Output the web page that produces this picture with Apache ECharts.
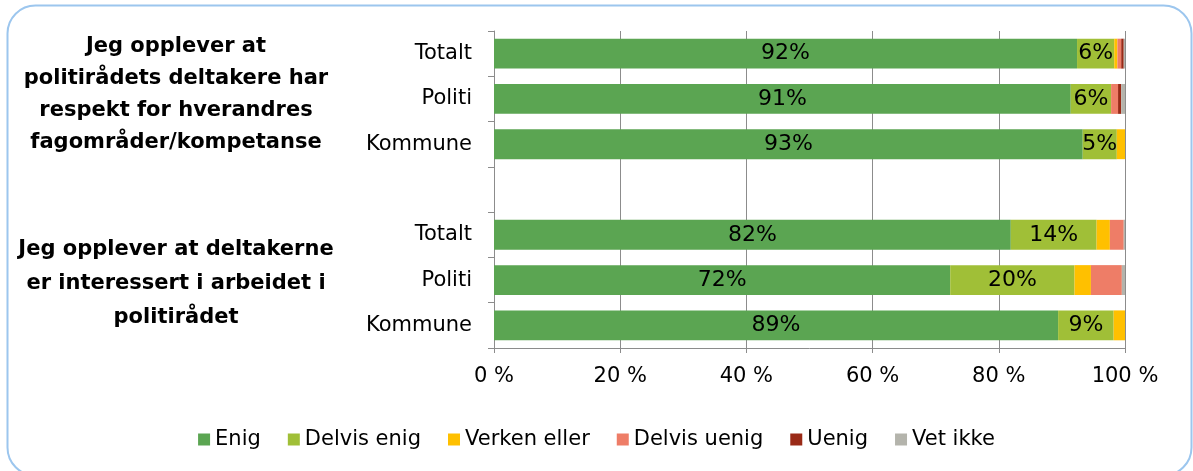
<!DOCTYPE html>
<html>
<head>
<meta charset="utf-8">
<script src="https://cdn.jsdelivr.net/npm/echarts@6/dist/echarts.min.js"></script>
<style>
  html, body { margin: 0; padding: 0; background: #fff; }
  #chart { width: 1193px; height: 471px; }
</style>
</head>
<body>
<div id="chart"></div>
<script>
// Kategorier (tom rad mellom de to spørsmålene)
const categoryLabels = ['Totalt', 'Politi', 'Kommune', '', 'Totalt', 'Politi', 'Kommune'];
const categoryIds = ['t1', 'p1', 'k1', 'gap', 't2', 'p2', 'k2'];

const questions = [
    'Jeg opplever at\npolitirådets deltakere har\nrespekt for hverandres\nfagområder/kompetanse',
    'Jeg opplever at deltakerne\ner interessert i arbeidet i\npolitirådet'
];

const seriesNames = ['Enig', 'Delvis enig', 'Verken eller', 'Delvis uenig', 'Uenig', 'Vet ikke'];

const enig        = [92.4, 91.4, 93.3, null, 81.9, 72.3, 89.4];
const delvisEnig  = [5.9, 6.4, 5.4, null, 13.6, 19.7, 8.8];
const verkenEller = [0.5, 0, 1.3, null, 2.1, 2.6, 1.8];
const delvisUenig = [0.6, 1.1, 0, null, 2.2, 4.9, 0];
const uenig       = [0.4, 0.5, 0, null, 0, 0, 0];
const vetIkke     = [0.2, 0.6, 0, null, 0.2, 0.5, 0];

const xTicks = [0, 20, 40, 60, 80, 100];

const colors = ['#5BA552', '#A0BF37', '#FFC000', '#EE7D67', '#9A2A17', '#B4B4AC'];
const font = 'DejaVu Sans';

const chart = echarts.init(document.getElementById('chart'));

function makeSeries(name, data, idx, withLabel) {
    return {
        name: name,
        type: 'bar',
        stack: 'total',
        data: data,
        barCategoryGap: '34%',
        itemStyle: { color: colors[idx] },
        label: {
            show: withLabel,
            position: 'inside',
            color: '#000',
            fontFamily: font,
            fontSize: 22,
            formatter: function (p) {
                return p.value ? Math.round(p.value) + '%' : '';
            }
        },
        emphasis: { disabled: true }
    };
}

const option = {
    animation: false,
    color: colors,
    textStyle: { fontFamily: font },
    grid: {
        left: 494,
        right: 68,
        top: 31,
        bottom: 123
    },
    legend: {
        data: seriesNames,
        left: 'center',
        top: 424,
        icon: 'rect',
        itemWidth: 12,
        itemHeight: 12,
        itemGap: 27,
        textStyle: { fontFamily: font, fontSize: 21, color: '#000' }
    },
    xAxis: {
        type: 'value',
        min: xTicks[0],
        max: xTicks[xTicks.length - 1],
        interval: 20,
        axisLine: { show: true, lineStyle: { color: '#8c8c8c' } },
        axisTick: { show: true, length: 5, lineStyle: { color: '#8c8c8c' } },
        axisLabel: {
            fontFamily: font,
            fontSize: 21,
            color: '#000',
            margin: 18,
            formatter: function (v) { return v + ' %'; }
        },
        splitLine: { show: true, lineStyle: { color: '#8c8c8c', width: 1 } }
    },
    yAxis: {
        type: 'category',
        inverse: true,
        data: categoryIds,
        axisLine: { show: true, lineStyle: { color: '#8c8c8c' } },
        axisTick: { show: true, length: 6, lineStyle: { color: '#8c8c8c' } },
        axisLabel: {
            fontFamily: font,
            fontSize: 21,
            color: '#000',
            margin: 22,
            formatter: function (v, i) { return categoryLabels[i]; }
        }
    },
    graphic: [
        {
            type: 'rect',
            silent: true,
            shape: { x: 7.5, y: 5.5, width: 1184, height: 470, r: 28 },
            style: { fill: 'none', stroke: '#9CC6EE', lineWidth: 2 },
            z: -1
        },
        {
            type: 'text',
            silent: true,
            style: {
                text: questions[0],
                x: 176,
                y: 95,
                align: 'center',
                verticalAlign: 'middle',
                fontFamily: font,
                fontWeight: 'bold',
                fontSize: 21,
                lineHeight: 32,
                fill: '#000'
            }
        },
        {
            type: 'text',
            silent: true,
            style: {
                text: questions[1],
                x: 176,
                y: 284,
                align: 'center',
                verticalAlign: 'middle',
                fontFamily: font,
                fontWeight: 'bold',
                fontSize: 21,
                lineHeight: 34,
                fill: '#000'
            }
        }
    ],
    series: [
        makeSeries(seriesNames[0], enig, 0, true),
        makeSeries(seriesNames[1], delvisEnig, 1, true),
        makeSeries(seriesNames[2], verkenEller, 2, false),
        makeSeries(seriesNames[3], delvisUenig, 3, false),
        makeSeries(seriesNames[4], uenig, 4, false),
        makeSeries(seriesNames[5], vetIkke, 5, false)
    ]
};

chart.setOption(option);
</script>
</body>
</html>
